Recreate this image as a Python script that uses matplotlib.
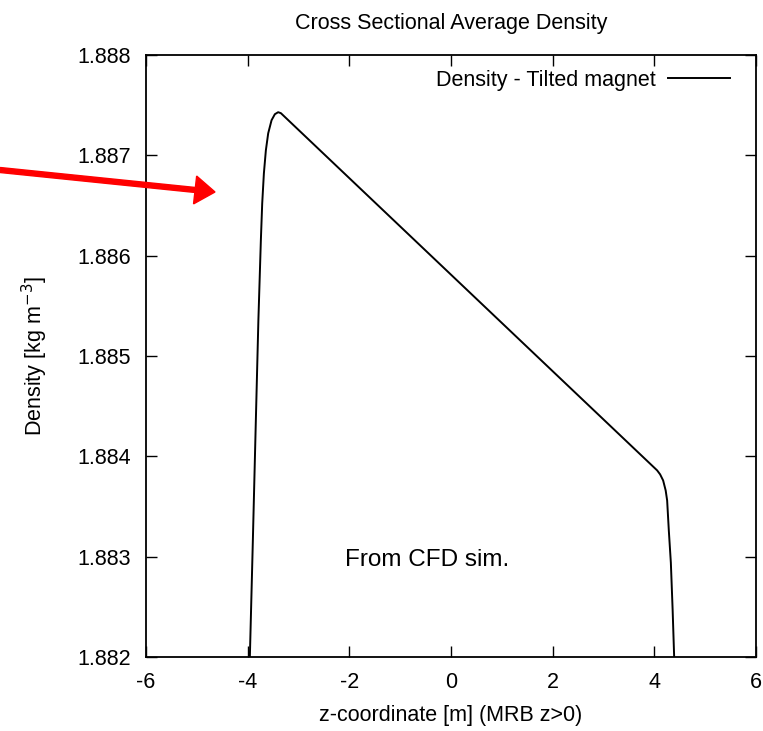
import numpy as np
import matplotlib.pyplot as plt

plt.rcParams['font.family'] = ['Liberation Sans', 'DejaVu Sans']

# curve
z = [-3.957, -3.898, -3.844, -3.789, -3.740, -3.714, -3.681, -3.642, -3.596, -3.530, -3.465,
     -3.400, -3.346, 4.055, 4.114, 4.173, 4.223, 4.252, 4.285, 4.325, 4.360, 4.390]
density = [1.88200, 1.88316, 1.88426, 1.88536, 1.88616, 1.88652, 1.88682, 1.88705, 1.88722,
           1.88735, 1.88741, 1.88743, 1.88742, 1.88386, 1.88382, 1.88376, 1.88366, 1.88356,
           1.88326, 1.88294, 1.88247, 1.88200]
xticks = [-6, -4, -2, 0, 2, 4, 6]
yticks = [1.882, 1.883, 1.884, 1.885, 1.886, 1.887, 1.888]

W, H = 763, 731
fig = plt.figure(figsize=(W / 100, H / 100), dpi=100)
ax = fig.add_axes([146 / W, 1 - 657 / H, (756 - 146) / W, (657 - 55) / H])

ax.plot(z, density, color='black', lw=1.4, label='Density - Tilted magnet')
ax.set_xlim(-6, 6)
ax.set_ylim(1.882, 1.888)
ax.set_xticks(xticks)
ax.set_yticks(yticks)
ax.set_xticklabels([str(t) for t in xticks])
ax.set_yticklabels(['%.3f' % t for t in yticks])
ax.tick_params(direction='in', length=8, width=1, top=True, right=True, labelsize=15.5)
ax.tick_params(axis='x', pad=10.5)
ax.tick_params(axis='y', pad=11)
for s in ax.spines.values():
    s.set_linewidth(1.3)

ax.set_title('Cross Sectional Average Density', fontsize=15.5, pad=19)
ax.set_xlabel('z-coordinate [m] (MRB z>0)', fontsize=15.5, labelpad=9)
ax.set_ylabel('Density [kg m$^{-3}$]', fontsize=15.5, labelpad=19.5)

leg = ax.legend(loc='upper right', bbox_to_anchor=(1, 1 + 11 / 602), frameon=False,
                fontsize=15.5, markerfirst=False,
                handlelength=2.9, handletextpad=0.56, borderaxespad=0.8)

ax.text(-0.47, 1.88297, 'From CFD sim.', ha='center', va='center', fontsize=17.5)

# red arrow, drawn in figure pixels
fig.patches.append(plt.matplotlib.patches.FancyArrow(
    0 / W, 1 - 170 / H, 215 / W, -22 / H, width=5 / H, head_width=28 / H,
    head_length=20 / W, length_includes_head=True, color='red',
    transform=fig.transFigure, figure=fig))

fig.savefig('out.png', dpi=100)
